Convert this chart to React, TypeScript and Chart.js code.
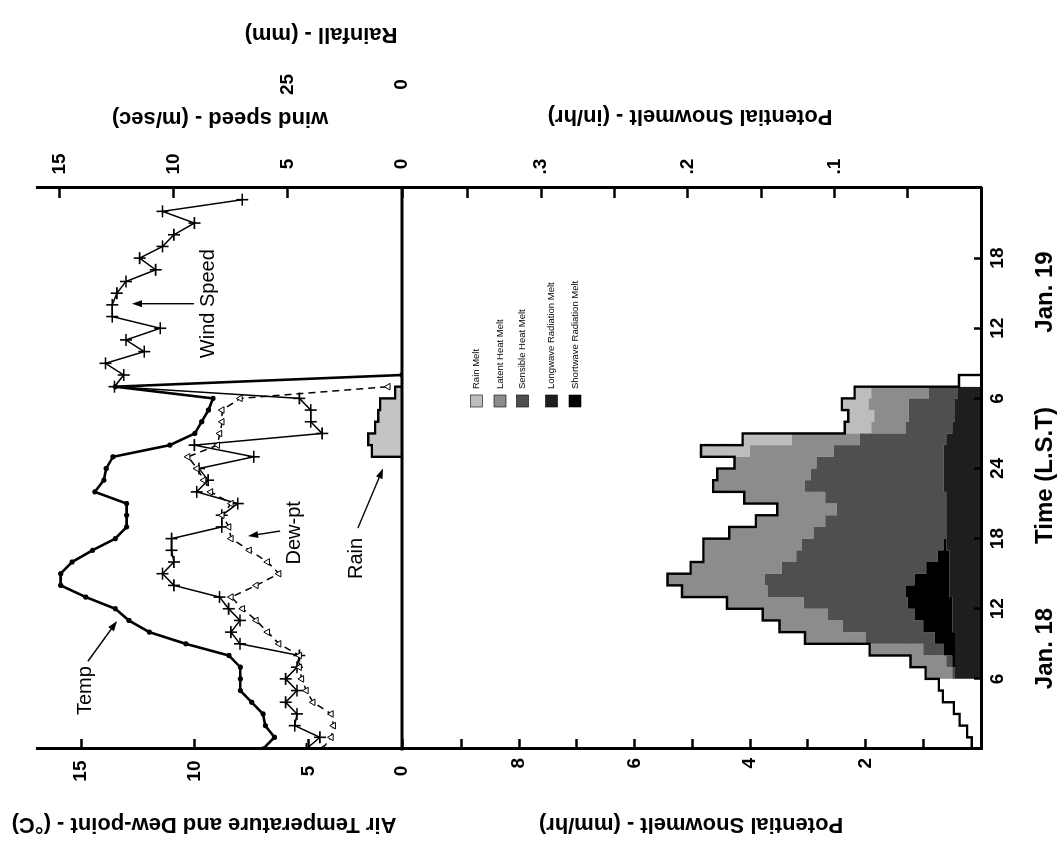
import React, { useEffect, useRef } from "react";
import { Chart, registerables } from "chart.js";

Chart.register(...registerables);

// ---------------- data (hours counted from 00 L.S.T., Jan. 18) ----------------
const timeTicks = [6, 12, 18, 24, 30, 36, 42];
const timeTickLabels = ["6", "12", "18", "24", "6", "12", "18"];

// hourly air temperature (°C), from hour 0
const temperature = [7.0, 6.5, 6.9, 7.0, 7.5, 8.0, 8.0, 8.0, 8.5, 10.4, 12.0, 12.9, 13.5, 14.8, 15.9, 15.9, 15.4, 14.5, 13.5, 13.0, 13.0, 13.0, 14.4, 14.0, 13.9, 13.6, 11.1, 10.0, 9.7, 9.4, 9.2, 13.5, 0.9];
// hourly dew-point (°C), from hour 0
const dewPoint = [4.4, 4.0, 3.9, 4.0, 4.8, 5.1, 5.3, 5.4, 5.4, 6.3, 6.8, 7.3, 7.9, 8.4, 7.3, 6.3, 6.8, 7.6, 8.4, 8.5, 8.8, 8.4, 9.3, 9.6, 9.9, 10.3, 9.0, 8.9, 8.8, 8.8, 8.0, 1.5];
// hourly wind speed (m/sec), from hour 0
const windSpeed = [4.2, 3.6, 4.7, 4.6, 5.1, 4.6, 5.1, 4.6, 4.5, 7.1, 7.5, 7.1, 7.6, 8.0, 10.0, 10.5, 10.0, 10.1, 10.1, 7.9, 7.9, 7.2, 9.0, 8.5, 8.9, 6.5, 9.1, 3.5, 4.0, 4.0, 4.5, 12.6, 12.2, 13.0, 11.3, 12.1, 10.6, 12.7, 12.7, 12.5, 12.1, 10.8, 11.5, 10.5, 10.0, 9.1, 10.5, 7.0];
// hourly rainfall (mm)
const rainHours = [25, 26, 27, 28, 29, 30];
const rainfall = [6.6, 7.4, 5.9, 5.2, 4.8, 1.5];

// potential snowmelt components (mm/hr), hours 6 .. 30
const meltStartHour = 6;
const longwaveMelt = [0.45, 0.45, 0.45, 0.45, 0.5, 0.5, 0.5, 0.55, 0.55, 0.55, 0.55, 0.6, 0.6, 0.6, 0.6, 0.6, 0.65, 0.65, 0.65, 0.65, 0.6, 0.5, 0.45, 0.45, 0.4];
const shortwaveMelt = [0, 0.05, 0.2, 0.35, 0.5, 0.65, 0.77, 0.75, 0.6, 0.4, 0.2, 0.05, 0, 0, 0, 0, 0, 0, 0, 0, 0, 0, 0, 0, 0];
const sensibleMelt = [0.05, 0.1, 0.35, 1.2, 1.4, 1.5, 1.8, 2.4, 2.6, 2.5, 2.45, 2.45, 2.3, 2.1, 1.9, 2.1, 2.4, 2.3, 2.2, 1.9, 1.5, 0.8, 0.8, 0.8, 0.5];
const latentMelt = [0.46, 0.62, 0.93, 1.05, 1.09, 1.13, 1.33, 1.48, 1.68, 1.58, 1.61, 1.71, 1.46, 1.2, 1.03, 1.4, 1.59, 1.62, 1.42, 1.45, 1.18, 0.6, 0.6, 0.7, 1.0];
const rainMelt = [0, 0, 0, 0, 0, 0, 0, 0, 0, 0, 0, 0, 0, 0, 0, 0, 0, 0, 0, 0.85, 0.85, 0.46, 0.45, 0.46, 0.29];
// potential snowmelt hours without component shading
const nightHours = [0, 1, 2, 3, 4, 5, 31];
const nightMelt = [0.16, 0.24, 0.37, 0.47, 0.66, 0.73, 0.38];

const legendLabels = ["Rain Melt", "Latent Heat Melt", "Sensible Heat Melt", "Longwave Radiation Melt", "Shortwave Radiation Melt"];

// ---------------- styling / layout ----------------
const FONT = '"Liberation Sans", Arial, Helvetica, sans-serif';
const COL = {
  rain: "#bdbdbd",
  latent: "#8c8c8c",
  sensible: "#4f4f4f",
  longwave: "#1e1e1e",
  shortwave: "#000000",
  rainfall: "#c4c4c4",
};
const legendColors = [COL.rain, COL.latent, COL.sensible, COL.longwave, COL.shortwave];

const TOP_W = 365;
const BOT_W = 579;
const TEMP_MIN = 0.89;
const TEMP_MAX = 16.94;
const WIND_MAX = 16;
const MELT_MAX = 10.03;
const RAIN_MAX = WIND_MAX * 5;
const RAIN_MIN = (-RAIN_MAX * BOT_W) / TOP_W;

const tempTicks = [TEMP_MIN, 5, 10, 15];
const windTicks = [0, 5, 10, 15];
const meltTicks = [1, 2, 3, 4, 5, 6, 7, 8, 9];
const meltInTicks = [1, 2, 3, 4, 5, 6, 7];
const rainTicks = [0, 25];

const asPoints = (vals: number[], start = 0) => vals.map((v, i) => ({ x: start + i, y: v }));
function stepPoints(start: number, vals: number[]) {
  const d = asPoints(vals, start);
  d.push({ x: start + vals.length, y: vals[vals.length - 1] });
  return d;
}

// cumulative melt layers (from the axis outward)
const layers = [longwaveMelt, shortwaveMelt, sensibleMelt, latentMelt, rainMelt];
const layerColors = [COL.longwave, COL.shortwave, COL.sensible, COL.latent, COL.rain];
const layerNames = ["Longwave Radiation Melt", "Shortwave Radiation Melt", "Sensible Heat Melt", "Latent Heat Melt", "Rain Melt"];
const cumulative: number[][] = [];
{
  let run = longwaveMelt.map(() => 0);
  for (const l of layers) {
    run = run.map((r, i) => r + l[i]);
    cumulative.push(run);
  }
}
const totalMelt = cumulative[cumulative.length - 1];
const envelope: { x: number; y: number }[] = [];
for (let h = 0; h <= 31; h++) {
  const mi = h - meltStartHour;
  const v = mi >= 0 && mi < totalMelt.length ? totalMelt[mi] : nightMelt[nightHours.indexOf(h)];
  envelope.push({ x: h, y: v });
}
envelope.push({ x: 32, y: 0 });

const rainPoints: { x: number; y: number }[] = [{ x: rainHours[0], y: 0 }];
rainHours.forEach((h, i) => rainPoints.push({ x: h, y: rainfall[i] }));
rainPoints.push({ x: rainHours[rainHours.length - 1] + 1, y: rainfall[rainfall.length - 1] });
rainPoints.push({ x: rainHours[rainHours.length - 1] + 1, y: 0 });

const tickGrid = (len: number) => ({
  display: true,
  drawOnChartArea: false,
  drawTicks: true,
  tickLength: len,
  tickWidth: 2.5,
  tickColor: "#000",
  z: 1,
});
const border = { display: true, color: "#000", width: 3, z: 1 };
const tickFont = { family: FONT, size: 19, weight: "bold" };

function rotText(ctx: CanvasRenderingContext2D, text: string, x: number, y: number, font: string) {
  ctx.save();
  ctx.translate(x, y);
  ctx.rotate(-Math.PI / 2);
  ctx.font = font;
  ctx.textAlign = "center";
  ctx.textBaseline = "middle";
  ctx.fillText(text, 0, 0);
  ctx.restore();
}

function arrow(ctx: CanvasRenderingContext2D, x1: number, y1: number, x2: number, y2: number) {
  const a = Math.atan2(y2 - y1, x2 - x1);
  const hl = 10;
  const hw = 3.5;
  ctx.beginPath();
  ctx.moveTo(x1, y1);
  ctx.lineTo(x2 - Math.cos(a) * hl * 0.8, y2 - Math.sin(a) * hl * 0.8);
  ctx.lineWidth = 1.4;
  ctx.stroke();
  ctx.beginPath();
  ctx.moveTo(x2, y2);
  ctx.lineTo(x2 - Math.cos(a) * hl - Math.sin(a) * hw, y2 - Math.sin(a) * hl + Math.cos(a) * hw);
  ctx.lineTo(x2 - Math.cos(a) * hl + Math.sin(a) * hw, y2 - Math.sin(a) * hl - Math.cos(a) * hw);
  ctx.closePath();
  ctx.fill();
}

// annotation positions in (hour, value, axis) units
const notes = [
  { text: "Temp", axis: "yTemp", t: 5.0, v: 14.8, ax: [7.5, 14.7, 10.95, 13.42] },
  { text: "Dew-pt", axis: "yTemp", t: 18.5, v: 5.6, ax: [18.65, 6.25, 18.22, 7.66] },
  { text: "Rain", axis: "yWind", t: 16.3, v: 2.0, ax: [18.9, 1.93, 24.0, 0.83] },
  { text: "Wind Speed", axis: "yWind", t: 38.1, v: 8.5, ax: [38.1, 9.12, 38.1, 11.84] },
];

const decor = {
  id: "decor",
  afterDraw(chart: any) {
    const { ctx, chartArea, scales } = chart;
    const { x, yTemp } = scales;
    ctx.save();
    ctx.fillStyle = "#000";
    ctx.strokeStyle = "#000";
    // panel divider
    ctx.lineWidth = 3;
    ctx.beginPath();
    ctx.moveTo(chartArea.left - 1.5, yTemp.bottom);
    ctx.lineTo(chartArea.right + 1.5, yTemp.bottom);
    ctx.stroke();

    // axis titles
    const tf = `bold 22px ${FONT}`;
    rotText(ctx, "Air Temperature and Dew-point - (°C)", 21, 204, tf);
    rotText(ctx, "Potential Snowmelt - (mm/hr)", 21, 691, tf);
    rotText(ctx, "wind speed - (m/sec)", 727, 220, tf);
    rotText(ctx, "Rainfall - (mm)", 811, 321, tf);
    rotText(ctx, "Potential Snowmelt - (in/hr)", 729, 690, tf);

    ctx.font = `bold 24px ${FONT}`;
    ctx.textAlign = "center";
    ctx.textBaseline = "middle";
    ctx.fillText("Jan. 18", x.getPixelForValue(8.6), 1045);
    ctx.fillText("Time (L.S.T)", x.getPixelForValue(23.4), 1045);
    ctx.fillText("Jan. 19", x.getPixelForValue(39.1), 1045);

    // annotations
    ctx.font = `20px ${FONT}`;
    for (const n of notes) {
      const s = scales[n.axis];
      ctx.textAlign = "center";
      ctx.textBaseline = "middle";
      ctx.fillText(n.text, x.getPixelForValue(n.t), s.getPixelForValue(n.v));
      arrow(
        ctx,
        x.getPixelForValue(n.ax[0]),
        s.getPixelForValue(n.ax[1]),
        x.getPixelForValue(n.ax[2]),
        s.getPixelForValue(n.ax[3])
      );
    }

    // legend
    const lx = chartArea.left + 342;
    const ly = [476.5, 500, 522.5, 551.5, 575];
    ctx.font = `9.5px ${FONT}`;
    ctx.textAlign = "left";
    ctx.textBaseline = "middle";
    legendLabels.forEach((lab, i) => {
      ctx.fillStyle = legendColors[i];
      ctx.fillRect(lx, ly[i] - 6, 12, 12);
      ctx.strokeStyle = "#000";
      ctx.lineWidth = 0.6;
      ctx.strokeRect(lx, ly[i] - 6, 12, 12);
      ctx.fillStyle = "#000";
      ctx.fillText(lab, lx + 18, ly[i]);
    });
    ctx.restore();
  },
};

export default function App() {
  const ref = useRef<HTMLCanvasElement>(null);
  useEffect(() => {
    const canvas = ref.current;
    if (!canvas) return;
    Chart.defaults.font.family = FONT;
    Chart.defaults.color = "#000";

    const meltDatasets = layers.map((_, i) => ({
      label: layerNames[i],
      data: stepPoints(meltStartHour, cumulative[i]),
      yAxisID: "yMelt",
      stepped: "before" as const,
      borderWidth: 0,
      borderColor: "rgba(0,0,0,0)",
      backgroundColor: layerColors[i],
      pointRadius: 0,
      fill: i === 0 ? "origin" : "-1",
    }));

    const chart = new Chart(canvas, {
      type: "line",
      data: {
        datasets: [
          {
            label: "Temp",
            data: asPoints(temperature),
            yAxisID: "yTemp",
            borderColor: "#000",
            borderWidth: 2.6,
            pointRadius: 2.6,
            pointBackgroundColor: "#000",
            pointBorderWidth: 0,
            fill: false,
          },
          {
            label: "Dew-pt",
            data: asPoints(dewPoint),
            yAxisID: "yTemp",
            borderColor: "#000",
            borderWidth: 1.5,
            borderDash: [7, 5],
            pointStyle: "triangle",
            pointRadius: 3.8,
            pointBackgroundColor: "#fff",
            pointBorderColor: "#000",
            pointBorderWidth: 1,
            fill: false,
          },
          {
            label: "Wind Speed",
            data: asPoints(windSpeed),
            yAxisID: "yWind",
            borderColor: "#000",
            borderWidth: 1.5,
            pointStyle: "cross",
            pointRadius: 6,
            pointBorderColor: "#000",
            pointBorderWidth: 1.6,
            fill: false,
          },
          {
            label: "Potential Snowmelt",
            data: envelope,
            yAxisID: "yMelt",
            stepped: "before",
            borderColor: "#000",
            borderWidth: 2.4,
            pointRadius: 0,
            fill: false,
          },
          {
            label: "Rainfall",
            data: rainPoints,
            yAxisID: "yRain",
            stepped: "before",
            borderColor: "#000",
            borderWidth: 2.4,
            backgroundColor: COL.rainfall,
            pointRadius: 0,
            fill: "origin",
          },
          ...meltDatasets,
        ] as any,
      },
      options: {
        responsive: false,
        animation: false,
        devicePixelRatio: 1,
        events: [],
        layout: { padding: { top: 37, left: 0, right: 0, bottom: 0 } },
        elements: { line: { tension: 0 } },
        plugins: { legend: { display: false }, tooltip: { enabled: false } },
        scales: {
          x: {
            type: "linear",
            position: "bottom",
            min: 0,
            max: 48,
            afterBuildTicks: (s: any) => {
              s.ticks = timeTicks.map((v) => ({ value: v }));
            },
            afterFit: (s: any) => {
              s.height = 80;
            },
            ticks: {
              font: tickFont,
              color: "#000",
              padding: 12.6,
              maxRotation: 0,
              autoSkip: false,
              callback: (v: any) => timeTickLabels[timeTicks.indexOf(Number(v))] ?? "",
            },
            grid: tickGrid(-7),
            border,
          },
          yTemp: {
            type: "linear",
            position: "left",
            stack: "left",
            stackWeight: TOP_W,
            weight: 1,
            min: TEMP_MIN,
            max: TEMP_MAX,
            afterBuildTicks: (s: any) => {
              s.ticks = tempTicks.map((v) => ({ value: v }));
            },
            afterFit: (s: any) => {
              s.width = 96;
            },
            ticks: {
              font: tickFont,
              color: "#000",
              padding: 21.5,
              crossAlign: "center",
              autoSkip: false,
              callback: (v: any) => (Number(v) === TEMP_MIN ? "0" : String(v)),
            },
            grid: tickGrid(-10),
            border,
          },
          yMelt: {
            type: "linear",
            position: "left",
            stack: "left",
            stackWeight: BOT_W,
            weight: 0,
            min: 0,
            max: MELT_MAX,
            afterBuildTicks: (s: any) => {
              s.ticks = meltTicks.map((v) => ({ value: v }));
            },
            afterFit: (s: any) => {
              s.width = 96;
            },
            ticks: {
              font: tickFont,
              color: "#000",
              padding: 19,
              crossAlign: "center",
              autoSkip: false,
              callback: (v: any) => (Number(v) % 2 === 0 ? String(v) : ""),
            },
            grid: tickGrid(-10),
            border,
          },
          yWind: {
            type: "linear",
            position: "right",
            stack: "right",
            stackWeight: TOP_W,
            weight: 0,
            min: 0,
            max: WIND_MAX,
            afterBuildTicks: (s: any) => {
              s.ticks = windTicks.map((v) => ({ value: v }));
            },
            afterFit: (s: any) => {
              s.width = 90;
            },
            ticks: {
              font: tickFont,
              color: "#000",
              padding: 23.5,
              crossAlign: "center",
              autoSkip: false,
            },
            grid: tickGrid(-10),
            border,
          },
          yMeltIn: {
            type: "linear",
            position: "right",
            stack: "right",
            stackWeight: BOT_W,
            weight: 0.5,
            min: 0,
            max: MELT_MAX / 25.4,
            afterBuildTicks: (s: any) => {
              s.ticks = meltInTicks.map((k) => ({ value: k * 0.05 }));
            },
            afterFit: (s: any) => {
              s.width = 90;
            },
            ticks: {
              font: tickFont,
              color: "#000",
              padding: 23.5,
              crossAlign: "center",
              autoSkip: false,
              callback: (v: any, i: number) => (meltInTicks[i] % 2 === 0 ? "." + meltInTicks[i] / 2 : ""),
            },
            grid: tickGrid(-10),
            border,
          },
          yRain: {
            type: "linear",
            position: "right",
            weight: 2,
            min: RAIN_MIN,
            max: RAIN_MAX,
            afterBuildTicks: (s: any) => {
              s.ticks = rainTicks.map((v) => ({ value: v }));
            },
            afterFit: (s: any) => {
              s.width = 98;
            },
            ticks: {
              font: tickFont,
              color: "#000",
              padding: 3,
              crossAlign: "center",
              autoSkip: false,
            },
            grid: { display: false, drawTicks: false },
            border: { display: false },
          },
        },
      } as any,
      plugins: [decor],
    });
    return () => chart.destroy();
  }, []);

  return (
    <div
      style={{
        position: "absolute",
        left: 0,
        top: 0,
        width: 1061,
        height: 845,
        overflow: "hidden",
        background: "#fff",
      }}
    >
      <canvas
        ref={ref}
        width={845}
        height={1061}
        style={{
          position: "absolute",
          left: 0,
          top: 0,
          width: 845,
          height: 1061,
          transformOrigin: "0 0",
          transform: "translate(0px, 845px) rotate(-90deg)",
        }}
      />
    </div>
  );
}
